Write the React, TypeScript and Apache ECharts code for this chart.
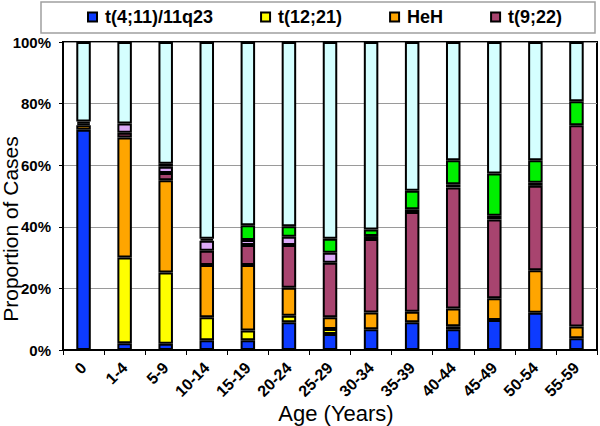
import React, { useEffect, useRef } from "react";
import * as echarts from "echarts";

const categories = ["0", "1-4", "5-9", "10-14", "15-19", "20-24", "25-29", "30-34", "35-39", "40-44", "45-49", "50-54", "55-59"];
const t411 = [71.5, 2.2, 2.0, 3.2, 3.2, 9.0, 5.2, 6.7, 9.0, 6.7, 9.7, 12.1, 3.8];
const t1221 = [0, 27.8, 23.2, 7.4, 3.1, 2.1, 1.6, 0, 0, 1.0, 0, 0, 0];
const heh = [1.5, 39.0, 29.9, 17.0, 21.3, 9.1, 3.8, 5.5, 3.4, 5.8, 7.1, 13.8, 3.8];
const t922 = [0.6, 1.5, 2.4, 4.6, 6.5, 13.9, 17.7, 23.8, 32.4, 39.3, 25.6, 27.4, 65.4];
const lavenderGroup = [0.6, 3.0, 2.0, 3.3, 1.6, 2.7, 3.3, 1.0, 0.9, 1.0, 1.2, 1.0, 0];
const greenGroup = [0, 0, 1.0, 0.6, 4.8, 3.4, 4.5, 2.1, 6.0, 7.8, 13.7, 7.3, 7.8];
const otherGroup = [25.8, 26.5, 39.5, 63.9, 59.5, 59.8, 63.9, 60.9, 48.3, 38.4, 42.7, 38.4, 19.2];
const yTicks = [0, 20, 40, 60, 80, 100];

const FONT = "'Liberation Sans', Arial, Helvetica, sans-serif";

const seriesDefs = [
  { name: "t(4;11)/11q23", data: t411, color: "#0D3BFF" },
  { name: "t(12;21)", data: t1221, color: "#FFFF00" },
  { name: "HeH", data: heh, color: "#FFA500" },
  { name: "t(9;22)", data: t922, color: "#A8446F" },
  { name: "Other A", data: lavenderGroup, color: "#DDAAF8" },
  { name: "Other B", data: greenGroup, color: "#00F000" },
  { name: "Other C", data: otherGroup, color: "#D5FFFF" },
];

export default function App() {
  const ref = useRef<HTMLDivElement>(null);
  useEffect(() => {
    if (!ref.current) return;
    const chart = echarts.init(ref.current, undefined, { renderer: "svg" });
    chart.setOption({
      animation: false,
      backgroundColor: "#ffffff",
      textStyle: { fontFamily: FONT },
      grid: {
        left: 63,
        right: 3,
        top: 42,
        bottom: 76,
        show: true,
        borderColor: "#000",
        borderWidth: 2,
        containLabel: false,
        outerBoundsMode: "none",
      },
      legend: {
        data: seriesDefs.slice(0, 4).map((s) => s.name),
        left: 87,
        top: 8,
        itemWidth: 9,
        itemHeight: 9,
        itemGap: 47,
        icon: "rect",
        padding: 0,
        textStyle: {
          fontFamily: FONT,
          fontSize: 18,
          fontWeight: "bold",
          color: "#000",
          padding: [0, 0, 0, 3],
        },
      },
      xAxis: {
        type: "category",
        data: categories,
        axisLine: { lineStyle: { color: "#000", width: 2 } },
        axisTick: { show: true, length: 5, lineStyle: { color: "#000" } },
        axisLabel: {
          rotate: 45,
          margin: 15,
          fontFamily: FONT,
          fontSize: 16,
          fontWeight: "bold",
          color: "#000",
          interval: 0,
        },
        splitLine: { show: false },
      },
      yAxis: {
        type: "value",
        min: yTicks[0],
        max: yTicks[yTicks.length - 1],
        interval: 20,
        axisLine: { show: true, lineStyle: { color: "#000", width: 2 } },
        axisTick: { show: true, length: 4, lineStyle: { color: "#000" } },
        axisLabel: {
          formatter: "{value}%",
          margin: 12,
          fontFamily: FONT,
          fontSize: 15,
          fontWeight: "bold",
          color: "#000",
        },
        splitLine: { show: true, lineStyle: { color: "#9a9a9a", width: 1 } },
      },
      graphic: [
        {
          type: "rect",
          shape: { x: 41, y: 2, width: 554, height: 31 },
          style: { fill: "none", stroke: "#a0a0a0", lineWidth: 1.5 },
          z: -1,
        },
        {
          type: "text",
          x: 10,
          y: 229,
          rotation: Math.PI / 2,
          style: {
            text: "Proportion of Cases",
            fontFamily: FONT,
            fontSize: 21,
            fill: "#000",
            align: "center",
            verticalAlign: "middle",
          },
        },
        {
          type: "text",
          x: 336,
          y: 413,
          style: {
            text: "Age (Years)",
            fontFamily: FONT,
            fontSize: 22,
            fill: "#000",
            align: "center",
            verticalAlign: "middle",
          },
        },
      ],
      series: seriesDefs.map((s) => ({
        name: s.name,
        type: "bar",
        stack: "total",
        barWidth: 14.5,
        data: s.data.map((v) => (v === 0 ? "-" : v)),
        itemStyle: { color: s.color, borderColor: "#000", borderWidth: 2 },
        emphasis: { disabled: true },
      })),
    });
    return () => chart.dispose();
  }, []);
  return (
    <div
      ref={ref}
      style={{ position: "fixed", left: 0, top: 0, width: 600, height: 426 }}
    />
  );
}
